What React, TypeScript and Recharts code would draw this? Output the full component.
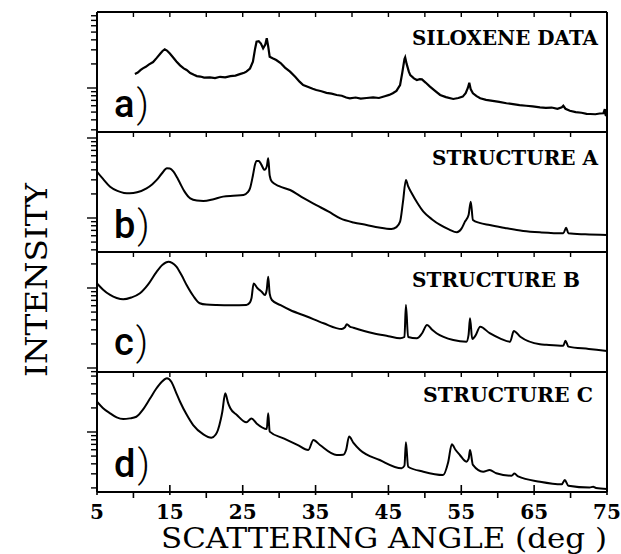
import React from 'react';
import { LineChart, Line, XAxis, YAxis } from 'recharts';

// ---- data (scattering angle in deg, intensity in arbitrary log units) ----
const siloxene: [number, number][] = [
  [10.2, 15.0], [10.6, 15.6], [11.0, 16.8], [11.3, 17.6], [11.7, 18.4], [12.1, 19.6], [12.7, 21.1],
  [13.2, 23.8], [13.7, 27.0], [14.0, 29.0], [14.3, 30.5], [14.6, 29.4], [15.0, 27.0], [15.4, 24.4],
  [15.9, 21.5], [16.4, 19.2], [16.9, 17.6], [17.3, 16.8], [17.8, 15.4], [18.3, 14.6], [18.7, 14.1],
  [19.2, 13.9], [19.7, 13.5], [20.5, 13.6], [21.2, 13.3], [21.9, 13.8], [22.6, 13.6], [23.3, 14.1],
  [24.0, 14.3], [24.7, 15.0], [25.2, 15.5], [25.5, 16.0], [26.0, 17.5], [26.4, 21.3], [26.7, 31.0],
  [26.9, 37.9], [27.2, 38.5], [27.5, 36.0], [27.8, 31.3], [28.1, 35.0], [28.3, 41.8], [28.5, 33.0],
  [28.7, 24.6], [29.1, 23.5], [29.6, 22.4], [30.2, 20.5], [30.8, 18.0], [31.5, 16.0], [32.2, 13.8],
  [32.8, 12.0], [33.3, 10.9], [34.0, 10.3], [34.6, 9.8], [35.1, 9.44], [35.8, 9.1], [36.5, 8.7],
  [37.2, 8.5], [37.9, 8.18], [38.6, 8.0], [39.2, 7.6], [39.7, 7.43], [40.5, 7.6], [41.2, 7.35],
  [42.0, 7.5], [42.9, 7.65], [43.7, 7.5], [44.5, 7.9], [45.1, 8.2], [45.6, 8.59], [46.1, 9.2],
  [46.6, 10.9], [46.9, 15.5], [47.2, 23.0], [47.3, 24.2], [47.5, 20.0], [47.8, 16.0], [48.0, 14.5],
  [48.5, 13.2], [48.9, 12.6], [49.3, 12.9], [49.6, 12.8], [50.1, 11.7], [50.7, 10.4], [51.4, 9.2],
  [52.1, 8.18], [52.9, 7.7], [53.9, 7.29], [54.6, 7.5], [55.2, 7.8], [55.6, 8.6], [55.9, 10.0],
  [56.1, 11.6], [56.3, 9.6], [56.6, 8.6], [57.1, 7.9], [57.6, 7.43], [58.4, 7.1], [59.3, 6.9],
  [60.2, 6.7], [61.2, 6.44], [62.1, 6.3], [63.0, 6.1], [63.9, 6.0], [64.8, 5.9], [65.8, 5.74],
  [66.6, 5.65], [67.4, 5.7], [68.2, 5.5], [68.8, 5.75], [69.0, 6.0], [69.3, 5.5], [69.9, 5.2],
  [70.7, 5.0], [71.5, 4.9], [72.2, 4.75], [72.7, 4.73], [73.4, 4.7], [74.0, 4.8], [74.5, 4.83],
  [74.7, 5.46], [74.8, 4.6], [75.0, 4.47],
];

const structureA: [number, number][] = [
  [5.0, 37.9], [5.8, 31.0], [6.8, 24.6], [7.8, 21.8], [8.7, 20.6], [9.5, 20.4], [10.5, 21.0],
  [11.8, 23.5], [12.6, 26.5], [13.2, 29.9], [13.9, 36.0], [14.6, 41.8], [15.0, 41.5], [15.5, 37.9],
  [16.0, 32.0], [16.4, 27.2], [17.0, 21.5], [17.8, 17.6], [18.7, 16.5], [19.6, 16.3], [21.0, 17.2],
  [22.3, 18.5], [23.7, 19.0], [25.1, 19.4], [25.7, 21.0], [26.0, 23.5], [26.4, 34.0], [26.7, 47.0],
  [26.9, 51.6], [27.2, 51.5], [27.5, 47.5], [28.0, 40.0], [28.3, 44.0], [28.5, 55.7], [28.7, 34.0],
  [29.0, 28.4], [30.0, 25.0], [31.5, 22.4], [33.3, 17.8], [35.1, 14.5], [36.8, 12.0], [38.4, 9.9],
  [40.2, 8.8], [42.0, 8.18], [43.7, 7.6], [45.4, 7.29], [46.1, 7.7], [46.6, 9.0], [47.0, 16.0],
  [47.4, 29.9], [47.7, 25.0], [48.2, 20.4], [49.0, 15.3], [49.8, 12.0], [51.0, 9.6], [52.1, 8.18],
  [53.3, 7.2], [54.4, 6.62], [55.0, 7.3], [55.5, 9.0], [56.0, 10.9], [56.3, 16.0], [56.6, 9.44],
  [57.5, 8.7], [58.9, 8.18], [61.0, 7.5], [63.5, 6.88], [66.0, 6.6], [69.0, 6.44], [69.4, 7.57],
  [69.7, 6.44], [72.0, 6.25], [75.0, 6.13],
];

const structureB: [number, number][] = [
  [5.0, 11.4], [5.8, 9.6], [6.8, 8.18], [7.7, 7.5], [8.6, 7.22], [9.7, 7.6], [10.9, 8.59],
  [12.0, 11.0], [13.2, 16.0], [14.0, 19.5], [14.8, 21.3], [15.3, 20.6], [15.9, 18.5], [16.6, 14.5],
  [17.3, 10.9], [18.2, 8.0], [19.1, 6.44], [20.0, 6.2], [21.4, 6.13], [23.5, 6.1], [25.5, 6.13],
  [26.0, 6.6], [26.2, 7.43], [26.5, 11.4], [27.0, 10.0], [27.6, 9.0], [28.05, 8.18], [28.3, 9.5],
  [28.5, 13.8], [28.7, 8.5], [29.0, 7.08], [30.2, 6.1], [31.5, 5.31], [33.8, 4.4], [36.1, 3.62],
  [38.6, 3.07], [39.0, 3.2], [39.3, 3.52], [39.7, 3.3], [40.2, 3.19], [42.9, 2.72], [45.0, 2.5],
  [46.6, 2.35], [47.2, 2.44], [47.4, 6.13], [47.7, 2.44], [48.9, 2.35], [49.6, 2.7], [50.3, 3.45],
  [51.0, 3.0], [51.6, 2.72], [53.9, 2.24], [55.7, 2.13], [56.0, 2.6], [56.2, 4.18], [56.5, 2.3],
  [56.9, 2.5], [57.6, 3.28], [58.9, 2.72], [60.3, 2.35], [61.7, 2.13], [62.2, 2.9], [63.1, 2.46],
  [65.8, 1.98], [66.7, 1.95], [69.0, 1.9], [69.3, 2.19], [69.7, 1.85], [72.5, 1.73], [75.0, 1.63],
];

const structureC: [number, number][] = [
  [5.0, 23.9], [5.8, 20.0], [6.8, 17.1], [7.7, 15.2], [8.6, 14.5], [9.5, 14.8], [10.4, 15.5],
  [11.3, 19.0], [12.3, 26.4], [13.1, 34.5], [13.9, 42.5], [14.6, 46.9], [15.2, 42.5], [15.8, 32.0],
  [16.4, 23.9], [17.3, 16.5], [18.2, 12.2], [19.6, 9.35], [20.7, 8.49], [21.3, 9.3], [21.6, 10.6],
  [22.0, 14.5], [22.2, 17.9], [22.6, 30.5], [23.0, 23.0], [23.3, 19.8], [24.2, 16.3], [25.5, 13.2],
  [26.2, 14.8], [26.9, 12.8], [28.3, 10.9], [28.5, 17.1], [28.7, 10.1], [30.6, 8.34], [32.5, 6.9],
  [34.0, 5.96], [34.7, 7.94], [35.6, 6.88], [37.9, 5.16], [38.8, 5.2], [39.2, 6.0], [39.6, 8.8],
  [40.2, 7.3], [41.1, 5.96], [43.8, 4.47], [46.8, 3.52], [47.2, 3.8], [47.4, 7.43], [47.7, 3.68],
  [49.8, 3.19], [52.5, 2.9], [53.2, 4.2], [53.7, 7.02], [54.2, 6.0], [54.8, 5.16], [55.7, 4.26],
  [56.0, 4.6], [56.2, 5.96], [56.6, 3.87], [58.0, 3.19], [58.9, 3.35], [59.8, 3.05], [61.9, 2.84],
  [62.3, 3.03], [62.8, 2.78], [65.8, 2.39], [68.8, 2.22], [69.2, 2.51], [69.7, 2.13], [72.6, 2.02],
  [73.1, 2.07], [73.5, 1.99], [75.0, 1.94],
];

const xTicks = [5, 10, 15, 20, 25, 30, 35, 40, 45, 50, 55, 60, 65, 70, 75];
const xLabels = [5, 15, 25, 35, 45, 55, 65, 75];
const yTickCandidates = [
  0.9, 1, 2, 3, 4, 5, 6, 7, 8, 9, 10, 20, 30, 40, 50, 60, 70, 80, 90, 100, 200,
];
const titles = ['SILOXENE DATA', 'STRUCTURE A', 'STRUCTURE B', 'STRUCTURE C'];
const letters = ['a', 'b', 'c', 'd'];

// ---- layout ----
const W = 621;
const H = 554;
const PLOT_LEFT = 97;
const PLOT_RIGHT = 607;

const panels = [
  { data: siloxene, top: 12, bottom: 132, domain: [2.818, 89.13], curve: 'linear', titleX: 412, titleW: 186, titleY: 45, letterY: 117 },
  { data: structureA, top: 132, bottom: 252, domain: [3.758, 118.85], curve: 'monotone', titleX: 432, titleW: 166, titleY: 165, letterY: 238 },
  { data: structureB, top: 252, bottom: 372, domain: [0.891, 28.18], curve: 'monotone', titleX: 412, titleW: 168, titleY: 287, letterY: 355 },
  { data: structureC, top: 372, bottom: 492, domain: [1.778, 56.23], curve: 'monotone', titleX: 423, titleW: 170, titleY: 402, letterY: 477 },
];

const serif = '"DejaVu Serif", "Liberation Serif", serif';

const YTick = (props: any) => {
  const { x, y, payload } = props;
  const v = payload.value;
  const lg = Math.log10(v);
  const dec = Math.abs(lg - Math.round(lg)) < 1e-6;
  const len = dec ? 10 : 6;
  return <line x1={x - len} x2={x} y1={y} y2={y} stroke="#000" strokeWidth={1.4} />;
};

const TopTick = (props: any) => {
  const { x, y } = props;
  return <line x1={x} x2={x} y1={y} y2={y + 5} stroke="#000" strokeWidth={1.4} />;
};

const BottomTick = (props: any) => {
  const { x, y, payload } = props;
  const v = payload.value;
  const major = xLabels.includes(v);
  return (
    <g>
      <line x1={x} x2={x} y1={major ? y - 7 : y} y2={major ? y + 3 : y + 6} stroke="#000" strokeWidth={1.6} />
      {major && (
        <text x={x} y={y + 27} textAnchor="middle" fontFamily={serif} fontWeight="bold" fontSize={20} fill="#000">
          {v}
        </text>
      )}
    </g>
  );
};

export default function App() {
  return (
    <div style={{ position: 'absolute', left: 0, top: 0, width: W, height: H, background: '#fff' }}>
      {panels.map((p, i) => {
        const rows = p.data.map(([angle, intensity]) => ({ angle, intensity }));
        const ticks = yTickCandidates.filter((t) => t >= p.domain[0] && t <= p.domain[1]);
        const isLast = i === panels.length - 1;
        return (
          <div key={i} style={{ position: 'absolute', left: 0, top: 0 }}>
            <LineChart
              width={W}
              height={H}
              data={rows}
              margin={{ top: p.top - 1, bottom: H - p.bottom - 1, left: 0, right: W - PLOT_RIGHT - 1 }}
            >
              <XAxis
                dataKey="angle"
                type="number"
                domain={[5, 75]}
                ticks={xTicks}
                interval={0}
                allowDataOverflow
                height={1}
                tickSize={0}
                tickMargin={0}
                tickLine={false}
                axisLine={{ stroke: '#000', strokeWidth: 2 }}
                tick={isLast ? (props: any) => <BottomTick {...props} /> : false}
              />
              <XAxis
                xAxisId="top"
                orientation="top"
                dataKey="angle"
                type="number"
                domain={[5, 75]}
                ticks={xTicks}
                interval={0}
                allowDataOverflow
                height={1}
                tickSize={0}
                tickMargin={0}
                tickLine={false}
                axisLine={{ stroke: '#000', strokeWidth: 2 }}
                tick={(props: any) => <TopTick {...props} />}
              />
              <YAxis
                type="number"
                scale="log"
                domain={p.domain}
                allowDataOverflow
                ticks={ticks}
                interval={0}
                width={PLOT_LEFT}
                tickSize={0}
                tickMargin={0}
                tickLine={false}
                axisLine={{ stroke: '#000', strokeWidth: 2 }}
                tick={(props: any) => <YTick {...props} />}
              />
              <YAxis
                yAxisId="r"
                orientation="right"
                type="number"
                domain={[0, 1]}
                width={1}
                tick={false}
                tickLine={false}
                axisLine={{ stroke: '#000', strokeWidth: 2 }}
              />
              <Line
                type={p.curve as any}
                dataKey="intensity"
                stroke="#000"
                strokeWidth={p.curve === 'linear' ? 2.2 : 2}
                dot={false}
                isAnimationActive={false}
              />
            </LineChart>
          </div>
        );
      })}
      <svg width={W} height={H} style={{ position: 'absolute', left: 0, top: 0, pointerEvents: 'none' }}>
        {panels.map((p, i) => (
          <g key={i}>
            <text x={p.titleX} y={p.titleY} fontFamily={serif} fontWeight="bold" fontSize={20} fill="#000" textLength={p.titleW} lengthAdjust="spacingAndGlyphs">
              {titles[i]}
            </text>
            <text x={114} y={p.letterY} fontFamily='Roboto, "DejaVu Sans", sans-serif' fontSize={38} fill="#000">
              <tspan fontWeight={500}>{letters[i]}</tspan>
              <tspan fontWeight={300} dx={2}>)</tspan>
            </text>
          </g>
        ))}
        <text x={384} y={548} textAnchor="middle" fontFamily={serif} fontSize={28} fill="#000" textLength={446} lengthAdjust="spacingAndGlyphs">
          SCATTERING ANGLE (deg )
        </text>
        <text
          x={0}
          y={0}
          transform="translate(47, 280) rotate(-90)"
          textAnchor="middle"
          fontFamily={serif}
          fontSize={30}
          fill="#000"
          textLength={194}
          lengthAdjust="spacingAndGlyphs"
        >
          INTENSITY
        </text>
      </svg>
    </div>
  );
}
